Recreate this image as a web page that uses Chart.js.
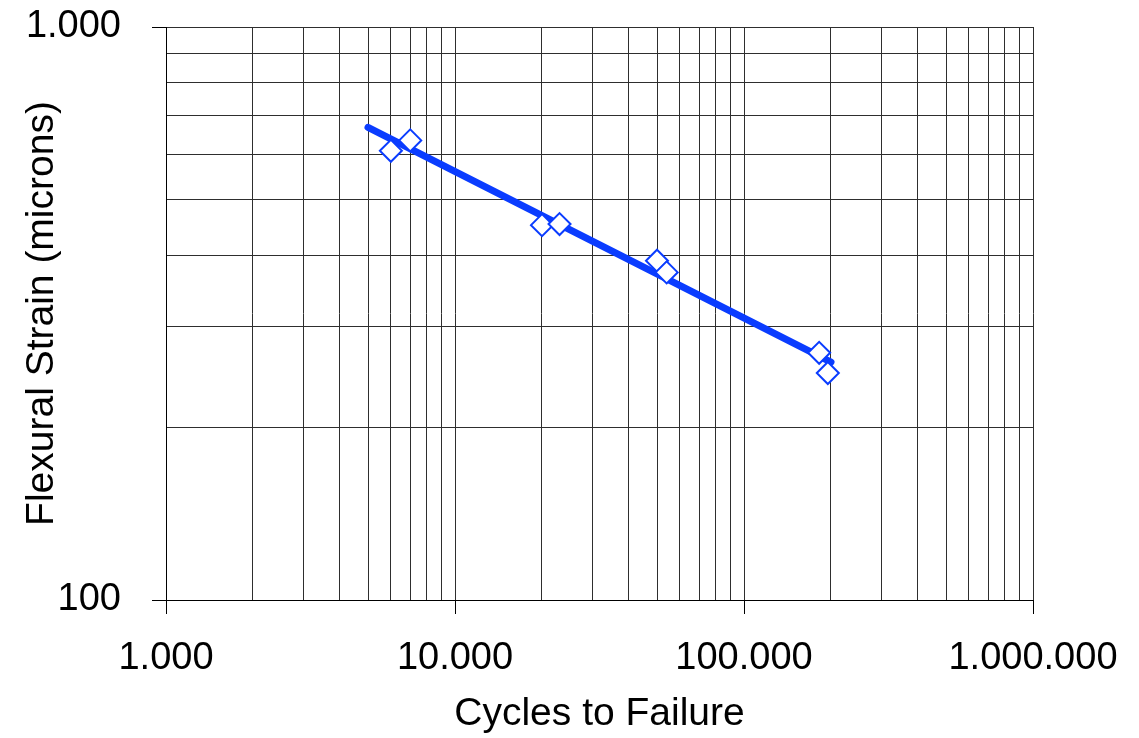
<!DOCTYPE html>
<html>
<head>
<meta charset="utf-8">
<script src="https://cdn.jsdelivr.net/npm/chart.js@4/dist/chart.umd.min.js"></script>
<style>
  html, body { margin: 0; padding: 0; background: #fff; }
  #wrap { width: 1139px; height: 738px; position: relative; }
</style>
</head>
<body>
<div id="wrap"><canvas id="chart"></canvas></div>
<script>
// measured specimens (cycles, strain in microns)
const cycles = [6000, 7000, 20000, 23000, 50000, 54000, 182000, 195000];
const strain = [608, 634, 451, 453, 391, 373, 270, 249];

// fitted fatigue line, end points
const fitCycles = [5000, 200000];
const fitStrain = [668, 260];

// axis labels
const xMajor = [1000, 10000, 100000, 1000000];
const xTickLabels = ['1.000', '10.000', '100.000', '1.000.000'];
const yMajor = [100, 1000];
const yTickLabels = ['100', '1.000'];

const blue = '#0a3cff';
const gridColor = '#2e2e2e';

// grid at 1..9 x 10^n for every decade of the range
const decadeTicks = (lo, hi) => {
  const out = [];
  for (let d = lo; d < hi; d *= 10) {
    for (let m = 1; m < 10; m++) out.push({ value: m * d });
  }
  out.push({ value: hi });
  return out;
};

const isMajor = (list, v) => list.some(m => Math.abs(m - v) < 1e-6 * m);

const points = cycles.map((c, i) => ({ x: c, y: strain[i] }));
const fit = fitCycles.map((c, i) => ({ x: c, y: fitStrain[i] }));

new Chart(document.getElementById('chart'), {
  type: 'scatter',
  data: {
    datasets: [
      {
        label: 'Specimens',
        data: points,
        pointStyle: 'rectRot',
        pointRadius: 11,
        pointHoverRadius: 11,
        borderWidth: 2,
        borderColor: blue,
        backgroundColor: '#fff',
        order: 0
      },
      {
        label: 'Fit',
        type: 'line',
        data: fit,
        borderColor: blue,
        borderWidth: 7,
        borderCapStyle: 'round',
        pointRadius: 0,
        fill: false,
        order: 1
      }
    ]
  },
  options: {
    responsive: true,
    maintainAspectRatio: false,
    animation: false,
    layout: { padding: { top: 27, right: 106, left: 0, bottom: 0 } },
    plugins: { legend: { display: false }, tooltip: { enabled: false } },
    scales: {
      x: {
        type: 'logarithmic',
        min: 1000,
        max: 1000000,
        afterBuildTicks: scale => { scale.ticks = decadeTicks(1000, 1000000); },
        afterFit: scale => {
          scale.height = 138;
          scale.paddingLeft = 0;
          scale.paddingRight = 0;
        },
        border: { color: '#000', width: 1 },
        grid: {
          color: gridColor,
          lineWidth: 1,
          tickLength: 14,
          tickColor: ctx => isMajor(xMajor, ctx.tick.value) ? '#000' : 'rgba(0,0,0,0)'
        },
        ticks: {
          autoSkip: false,
          maxRotation: 0,
          padding: 22,
          color: '#000',
          font: { family: 'Liberation Sans, Arial, sans-serif', size: 38 },
          callback: v => {
            const i = xMajor.findIndex(m => Math.abs(m - v) < 1e-6 * m);
            return i >= 0 ? xTickLabels[i] : '';
          }
        },
        title: {
          display: true,
          text: 'Cycles to Failure',
          color: '#000',
          padding: { top: 4, bottom: 0 },
          font: { family: 'Liberation Sans, Arial, sans-serif', size: 39 }
        }
      },
      y: {
        type: 'logarithmic',
        min: 100,
        max: 1000,
        afterBuildTicks: scale => { scale.ticks = decadeTicks(100, 1000); },
        afterFit: scale => {
          scale.width = 166;
          scale.paddingTop = 0;
          scale.paddingBottom = 0;
        },
        border: { color: '#000', width: 1 },
        grid: {
          color: gridColor,
          lineWidth: 1,
          tickLength: 14,
          tickColor: ctx => isMajor(yMajor, ctx.tick.value) ? '#000' : 'rgba(0,0,0,0)'
        },
        ticks: {
          autoSkip: false,
          padding: 31,
          color: '#000',
          font: { family: 'Liberation Sans, Arial, sans-serif', size: 38 },
          callback: v => {
            const i = yMajor.findIndex(m => Math.abs(m - v) < 1e-6 * m);
            return i >= 0 ? yTickLabels[i] : '';
          }
        },
        title: {
          display: true,
          text: 'Flexural Strain (microns)',
          color: '#000',
          padding: { top: 19, bottom: 0 },
          font: { family: 'Liberation Sans, Arial, sans-serif', size: 39 }
        }
      }
    }
  }
});
</script>
</body>
</html>
